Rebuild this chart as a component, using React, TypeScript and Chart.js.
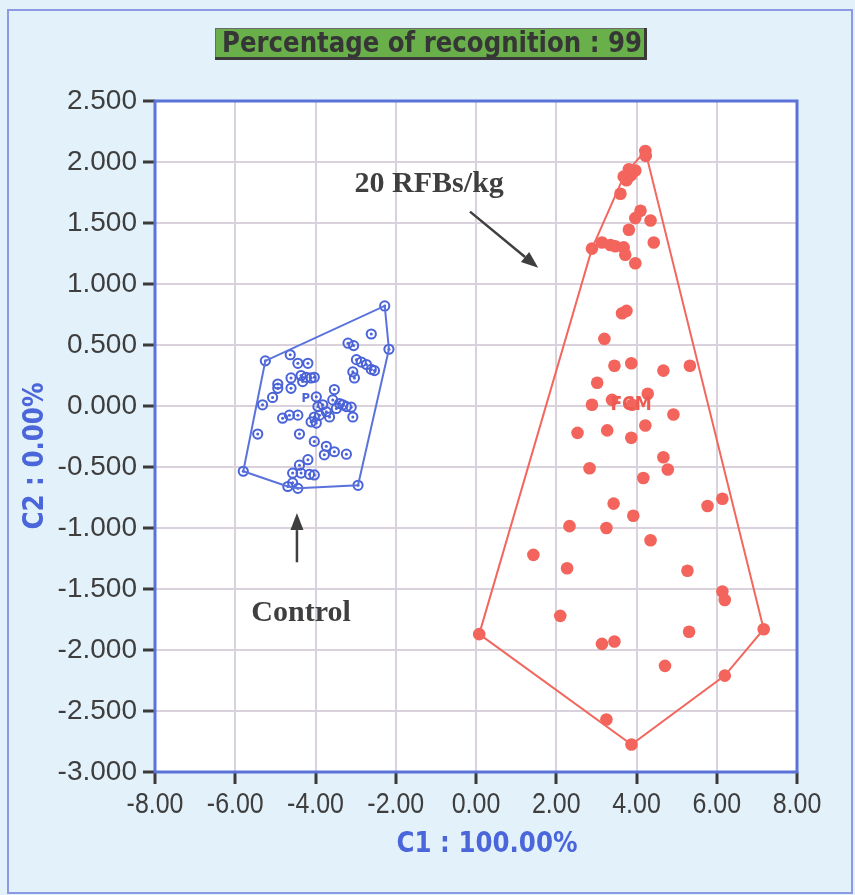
import { useEffect, useRef } from "react";
import { Chart, registerables } from "chart.js";

Chart.register(...registerables);

// Axis ticks
const X_TICKS = [-8, -6, -4, -2, 0, 2, 4, 6, 8];
const Y_TICKS = [2.5, 2, 1.5, 1, 0.5, 0, -0.5, -1, -1.5, -2, -2.5, -3];

// Control group scores (C1, C2)
const CONTROL_C1 = [
  -2.275, -2.61, -3.19, -3.05, -2.17, -5.25, -4.63, -4.44, -4.19, -2.98, -2.86, -2.73, -2.61, -2.53,
  -3.07, -3.03, -4.36, -4.23, -4.11, -4.03, -4.32, -4.61, -4.94, -4.94, -4.61, -5.07, -5.32, -3.98,
  -3.53, -3.57, -3.4, -3.23, -3.11, -3.48, -3.82, -3.94, -3.73, -3.9, -4.03, -4.11, -3.98, -3.65,
  -3.32, -3.07, -4.82, -4.65, -4.44, -5.44, -4.4, -4.03, -3.73, -3.53, -3.78, -3.23, -4.19, -4.4,
  -4.57, -4.36, -4.15, -4.03, -5.8, -4.69, -4.44, -4.57, -2.94,
];
const CONTROL_C2 = [
  0.82, 0.59, 0.515, 0.495, 0.465, 0.37, 0.42, 0.35, 0.35, 0.38, 0.36, 0.34, 0.3, 0.29,
  0.28, 0.23, 0.25, 0.235, 0.23, 0.235, 0.2, 0.23, 0.18, 0.145, 0.145, 0.07, 0.01, 0.075,
  0.135, 0.05, 0.02, -0.005, -0.01, -0.02, 0.01, -0.005, -0.047, -0.075, -0.09, -0.13, -0.14, -0.09,
  0.01, -0.09, -0.1, -0.075, -0.075, -0.23, -0.23, -0.29, -0.33, -0.375, -0.4, -0.395, -0.44, -0.485,
  -0.55, -0.55, -0.56, -0.565, -0.535, -0.66, -0.675, -0.63, -0.65,
];

// 20 RFBs/kg group scores (C1, C2)
const RFB_C1 = [
  4.22, 4.23, 3.81, 3.97, 3.68, 3.86, 3.75, 3.6, 4.1, 3.97, 4.35, 3.81, 4.43, 2.89, 3.14, 3.35,
  3.47, 3.68, 3.72, 3.97, 3.64, 3.75, 3.2, 3.45, 3.87, 4.67, 5.33, 3.02, 4.28, 2.89, 3.39, 3.89,
  4.92, 2.53, 3.27, 3.87, 4.22, 4.67, 4.78, 2.83, 4.17, 3.43, 3.92, 5.77, 6.14, 2.33, 3.25, 4.35,
  1.43, 2.27, 5.27, 6.14, 6.2, 2.1, 0.08, 7.17, 5.31, 3.14, 3.45, 4.71, 6.2, 3.25, 3.875,
];
const RFB_C2 = [
  2.09, 2.05, 1.94, 1.93, 1.88, 1.89, 1.85, 1.74, 1.6, 1.54, 1.52, 1.445, 1.34, 1.29, 1.34, 1.32,
  1.31, 1.3, 1.24, 1.17, 0.76, 0.78, 0.55, 0.33, 0.35, 0.29, 0.33, 0.19, 0.1, 0.01, 0.05, 0.01,
  -0.07, -0.22, -0.2, -0.26, -0.16, -0.42, -0.52, -0.51, -0.59, -0.8, -0.9, -0.82, -0.76, -0.985, -1.0, -1.1,
  -1.22, -1.33, -1.35, -1.52, -1.59, -1.72, -1.87, -1.83, -1.85, -1.95, -1.93, -2.13, -2.21, -2.57, -2.775,
];

const TITLE = "Percentage of recognition : 99";
const X_TITLE = "C1 : 100.00%";
const Y_TITLE = "C2 : 0.00%";
const RFB_NOTE = "20 RFBs/kg";
const CONTROL_NOTE = "Control";
const RFB_CENTER_TAG = "FCM";
const CONTROL_CENTER_TAG = "P";

// Annotation anchors, in data units
const RFB_NOTE_AT = { x: -3.025, y: 1.757 };
const RFB_ARROW = { from: { x: -0.15, y: 1.593 }, to: { x: 1.55, y: 1.133 } };
const CONTROL_NOTE_AT = { x: -5.6, y: -1.765 };
const CONTROL_ARROW = { from: { x: -4.4625, y: -1.281 }, to: { x: -4.4625, y: -0.878 } };
const RFB_TAG_AT = { x: 3.35, y: -0.033 };
const CONTROL_TAG_AT = { x: -4.35, y: 0.033 };

const W = 855;
const H = 895;
const BG = "#e3f1fa";
const BLUE = "#4a63d8";
const BLUE_LINE = "#5a72dc";
const RED = "#f2645c";
const RED_LINE = "#f2675e";
const GRID = "#d9d2dd";
const TEXT = "#3e3e3e";
const NARROW = "'Liberation Sans Narrow', 'Arial Narrow', 'DejaVu Sans Condensed', sans-serif";
const SANS = "'Liberation Sans', Arial, sans-serif";

type Pt = { x: number; y: number };

function toPoints(xs: number[], ys: number[]): Pt[] {
  return xs.map((x, i) => ({ x, y: ys[i] }));
}

// Monotone-chain convex hull, closed back to its first vertex
function convexHull(pts: Pt[]): Pt[] {
  const s = [...pts].sort((a, b) => a.x - b.x || a.y - b.y);
  const cross = (o: Pt, a: Pt, b: Pt) => (a.x - o.x) * (b.y - o.y) - (a.y - o.y) * (b.x - o.x);
  const lower: Pt[] = [];
  for (const p of s) {
    while (lower.length >= 2 && cross(lower[lower.length - 2], lower[lower.length - 1], p) <= 0) lower.pop();
    lower.push(p);
  }
  const upper: Pt[] = [];
  for (let i = s.length - 1; i >= 0; i--) {
    const p = s[i];
    while (upper.length >= 2 && cross(upper[upper.length - 2], upper[upper.length - 1], p) <= 0) upper.pop();
    upper.push(p);
  }
  upper.pop();
  lower.pop();
  const h = lower.concat(upper);
  h.push(h[0]);
  return h;
}

// Draws text squeezed or stretched horizontally to a given width
function fittedText(
  ctx: CanvasRenderingContext2D,
  text: string,
  cx: number,
  baseline: number,
  font: string,
  width: number,
  color: string,
  rotate = 0
) {
  ctx.save();
  ctx.font = font;
  ctx.fillStyle = color;
  ctx.textAlign = "center";
  ctx.textBaseline = "alphabetic";
  const w = ctx.measureText(text).width;
  ctx.translate(cx, baseline);
  if (rotate) ctx.rotate(rotate);
  ctx.scale(width / w, 1);
  ctx.fillText(text, 0, 0);
  ctx.restore();
}

function arrow(ctx: CanvasRenderingContext2D, x1: number, y1: number, x2: number, y2: number, color: string) {
  const ang = Math.atan2(y2 - y1, x2 - x1);
  const headLen = 17;
  const headHalf = 6.5;
  const bx = x2 - headLen * Math.cos(ang);
  const by = y2 - headLen * Math.sin(ang);
  ctx.save();
  ctx.strokeStyle = color;
  ctx.fillStyle = color;
  ctx.lineWidth = 2.5;
  ctx.beginPath();
  ctx.moveTo(x1, y1);
  ctx.lineTo(bx, by);
  ctx.stroke();
  ctx.beginPath();
  ctx.moveTo(x2, y2);
  ctx.lineTo(bx + headHalf * Math.sin(ang), by - headHalf * Math.cos(ang));
  ctx.lineTo(bx - headHalf * Math.sin(ang), by + headHalf * Math.cos(ang));
  ctx.closePath();
  ctx.fill();
  ctx.restore();
}

const framePlugin = {
  id: "frame",
  beforeDraw(chart: any) {
    const { ctx, chartArea: a } = chart;
    ctx.save();
    ctx.fillStyle = BG;
    ctx.fillRect(0, 0, W, H);
    ctx.strokeStyle = "#8b9ae2";
    ctx.lineWidth = 2;
    ctx.strokeRect(8, 10, 844, 883);
    ctx.fillStyle = "#ffffff";
    ctx.fillRect(a.left, a.top, a.right - a.left, a.bottom - a.top);
    ctx.restore();
  },
  beforeDatasetsDraw(chart: any) {
    const { ctx, chartArea: a } = chart;
    ctx.save();
    ctx.strokeStyle = "#5b72d9";
    ctx.lineWidth = 3;
    ctx.strokeRect(a.left, a.top, a.right - a.left, a.bottom - a.top);
    ctx.restore();
  },
  afterDraw(chart: any) {
    const { ctx, chartArea: a } = chart;
    const xs = chart.scales.x;
    const ys = chart.scales.y;
    const px = (p: Pt) => ({ x: xs.getPixelForValue(p.x), y: ys.getPixelForValue(p.y) });

    // Condensed C1 tick labels under the tick marks
    ctx.save();
    ctx.font = `29px ${SANS}`;
    ctx.fillStyle = TEXT;
    ctx.textAlign = "center";
    ctx.textBaseline = "alphabetic";
    for (const v of X_TICKS) {
      ctx.save();
      ctx.translate(xs.getPixelForValue(v), a.bottom + 41);
      ctx.scale(0.86, 1);
      ctx.fillText(v.toFixed(2), 0, 0);
      ctx.restore();
    }
    ctx.restore();

    // Title box
    ctx.save();
    ctx.fillStyle = "#69b04b";
    ctx.fillRect(215, 28, 432, 31);
    ctx.strokeStyle = "#6a6a6a";
    ctx.lineWidth = 1;
    ctx.strokeRect(215.5, 28.5, 431, 30);
    ctx.fillStyle = "#3a3a3a";
    ctx.fillRect(215, 57, 432, 3);
    ctx.fillRect(644, 28, 3, 32);
    ctx.restore();
    fittedText(ctx, TITLE, 432, 52, `bold 28px ${NARROW}`, 420, "#363636");

    // Axis titles
    const mid = (a.left + a.right) / 2;
    fittedText(ctx, X_TITLE, mid + 11, 852, `bold 28px ${NARROW}`, 181, "#4a66da");
    fittedText(ctx, Y_TITLE, 43, 456, `bold 28px ${NARROW}`, 147, "#4a66da", -Math.PI / 2);

    // Group notes and arrows
    ctx.save();
    ctx.fillStyle = "#3f3f3f";
    ctx.font = "bold 30px 'Liberation Serif', 'Times New Roman', serif";
    ctx.textBaseline = "alphabetic";
    ctx.textAlign = "left";
    const rn = px(RFB_NOTE_AT);
    ctx.fillText(RFB_NOTE, rn.x, rn.y);
    const cn = px(CONTROL_NOTE_AT);
    ctx.fillText(CONTROL_NOTE, cn.x, cn.y);
    ctx.restore();
    const ra = px(RFB_ARROW.from);
    const rb = px(RFB_ARROW.to);
    arrow(ctx, ra.x, ra.y, rb.x, rb.y, "#3f3f3f");
    const ca = px(CONTROL_ARROW.from);
    const cb = px(CONTROL_ARROW.to);
    arrow(ctx, ca.x, ca.y, cb.x, cb.y, "#3f3f3f");

    // Group centre tags
    ctx.save();
    ctx.textAlign = "left";
    ctx.textBaseline = "alphabetic";
    ctx.font = `bold 19px ${NARROW}`;
    ctx.fillStyle = "#ee5a52";
    const rt = px(RFB_TAG_AT);
    ctx.fillText(RFB_CENTER_TAG, rt.x, rt.y);
    ctx.font = `bold 13px ${NARROW}`;
    ctx.fillStyle = BLUE;
    const ct = px(CONTROL_TAG_AT);
    ctx.fillText(CONTROL_CENTER_TAG, ct.x, ct.y);
    ctx.restore();
  },
};

export default function App() {
  const canvasRef = useRef<HTMLCanvasElement | null>(null);

  useEffect(() => {
    const canvas = canvasRef.current;
    if (!canvas) return;
    const control = toPoints(CONTROL_C1, CONTROL_C2);
    const rfb = toPoints(RFB_C1, RFB_C2);

    const chart = new Chart(canvas, {
      type: "scatter",
      data: {
        datasets: [
          {
            label: "Control hull",
            data: convexHull(control),
            showLine: true,
            borderColor: BLUE_LINE,
            borderWidth: 2,
            pointRadius: 0,
            fill: false,
          },
          {
            label: "20 RFBs/kg hull",
            data: convexHull(rfb),
            showLine: true,
            borderColor: RED_LINE,
            borderWidth: 2,
            pointRadius: 0,
            fill: false,
          },
          {
            label: "Control",
            data: control,
            pointRadius: 4.6,
            pointBorderWidth: 2,
            pointBorderColor: BLUE,
            pointBackgroundColor: "rgba(255,255,255,0)",
          },
          {
            label: "Control centre",
            data: control,
            pointRadius: 1.5,
            pointBorderWidth: 0,
            pointBackgroundColor: BLUE,
          },
          {
            label: "20 RFBs/kg",
            data: rfb,
            pointRadius: 6.3,
            pointBorderWidth: 0,
            pointBackgroundColor: RED,
          },
        ],
      },
      options: {
        animation: false,
        responsive: false,
        devicePixelRatio: 1,
        events: [],
        layout: { padding: { left: 0, right: 58, top: 101, bottom: 0 } },
        plugins: { legend: { display: false }, tooltip: { enabled: false }, title: { display: false } },
        scales: {
          x: {
            type: "linear",
            min: -8,
            max: 8,
            afterBuildTicks: (s: any) => {
              s.ticks = X_TICKS.map((v) => ({ value: v }));
            },
            afterFit: (s: any) => {
              s.height = 123;
            },
            ticks: { display: false, autoSkip: false, maxRotation: 0 },
            grid: { color: GRID, lineWidth: 2, tickColor: "#3a3a3a", tickLength: 12, tickWidth: 3 },
            border: { display: false },
          },
          y: {
            type: "linear",
            min: -3,
            max: 2.5,
            afterBuildTicks: (s: any) => {
              s.ticks = Y_TICKS.map((v) => ({ value: v }));
            },
            afterFit: (s: any) => {
              s.width = 155;
            },
            ticks: {
              autoSkip: false,
              padding: 6,
              color: TEXT,
              font: { family: SANS, size: 28 },
              callback: (v: any) => Number(v).toFixed(3),
            },
            grid: { color: GRID, lineWidth: 2, tickColor: "#3a3a3a", tickLength: 12, tickWidth: 3 },
            border: { display: false },
          },
        },
      },
      plugins: [framePlugin],
    });
    return () => chart.destroy();
  }, []);

  return (
    <div style={{ position: "absolute", left: 0, top: 0, width: W, height: H }}>
      <canvas ref={canvasRef} width={W} height={H} style={{ display: "block" }} />
    </div>
  );
}
